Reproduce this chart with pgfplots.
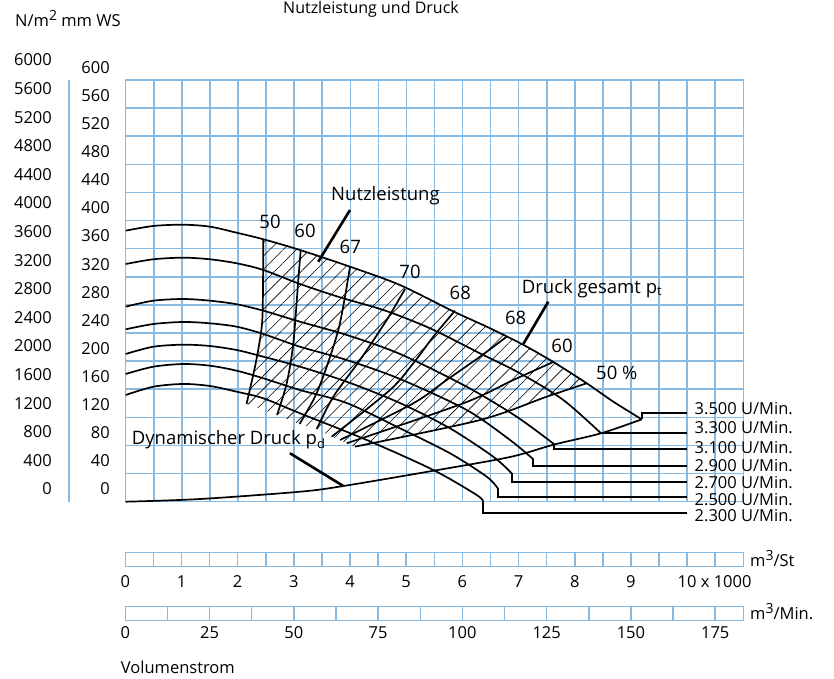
\documentclass[border=0pt]{standalone}
\usepackage{fontspec}
\setmainfont{Open Sans}
\usepackage{pgfplots}
\pgfplotsset{compat=1.18}
\usetikzlibrary{patterns.meta}
\definecolor{gridblue}{RGB}{137,186,226}
\newcommand\fa{\fontsize{18.5bp}{22bp}\selectfont}
\newcommand\fb{\fontsize{16.5bp}{20bp}\selectfont}
\begin{document}
\begin{tikzpicture}
% main chart: x in 1000 m3/h, y in mm WS
\begin{axis}[
  at={(125.7bp,177.3bp)}, anchor=south west,
  scale only axis, width=617.6bp, height=421.7bp,
  xmin=0, xmax=11, ymin=-18, ymax=582,
  xtick={0,0.5,...,11}, ytick={-18,22,...,582},
  xticklabels={}, yticklabels={},
  tick style={draw=none},
  grid=major, major grid style={gridblue, line width=1.5bp},
  axis line style={gridblue, line width=1.5bp},
  clip=false,
  curve/.style={black, no marks, line width=1.7bp, smooth},
  lead/.style={black, no marks, line width=1.7bp, sharp plot},
]
% hatched area of Nutzleistung
\addplot[draw=none, pattern={Lines[angle=45,distance=9.4bp,line width=0.6bp]}, pattern color=black]
  coordinates {(2.451,355.4)(3.104,340.1)(3.994,316.4)(4.885,290.3)(5.847,252.3)(6.430,231.0)
  (7.053,206.4)(7.616,180.8)(8.211,150.5)(7.499,131.4)(6.310,98.2)(4.084,60.3)(3.936,65.1)
  (3.817,69.8)(3.669,74.5)(3.402,85.4)(3.096,92.6)(2.695,105.4)(2.152,121.0)(2.303,174.1)
  (2.404,219.2)(2.440,254.8)} -- cycle;

% pressure curves
\addplot[curve] coordinates {(0,367.6)(0.492,374.3)(1.026,376.1)(1.502,373.3)(1.977,364.7)(2.451,355.4)(3.104,340.1)(3.994,316.4)(4.885,290.3)(5.847,252.3)(6.430,231.0)(7.053,206.4)(7.616,180.8)(8.211,150.5)(8.685,124.3)(9.191,99.2)};
\addplot[lead] coordinates {(9.191,99.2)(9.191,107.8)(10,107.8)};
\addplot[curve] coordinates {(0,320.2)(0.492,326.9)(1.026,329.2)(1.502,326.9)(1.977,321.2)(2.451,311.7)(3.104,291.8)(3.817,272.8)(4.618,254.0)(5.420,228.7)(6.310,193.1)(7.023,164.7)(7.794,126.7)(8.466,79.3)};
\addplot[lead] coordinates {(8.466,79.3)(10,79.3)};
\addplot[curve] coordinates {(0,259.5)(0.492,268.0)(1.026,270.4)(1.502,268.0)(1.977,262.9)(2.451,253.8)(3.104,238.1)(3.937,219.2)(4.885,192.2)(6.073,145.6)(6.964,102.9)(7.633,63.7)};
\addplot[lead] coordinates {(7.633,63.7)(7.633,56.6)(10,56.6)};
\addplot[curve] coordinates {(0,227.3)(0.492,234.8)(1.026,237.7)(1.502,235.8)(1.977,231.0)(2.451,220.6)(3.104,202.5)(3.937,183.6)(4.885,156.6)(6.073,112.5)(6.845,69.8)(7.260,42.3)};
\addplot[lead] coordinates {(7.260,42.3)(7.260,33.2)(10,33.2)};
\addplot[curve] coordinates {(0,192.2)(0.492,202.5)(1.026,205.4)(1.502,203.5)(1.977,197.8)(2.451,188.3)(3.104,174.1)(3.937,152.7)(4.885,122.4)(5.776,86.4)(6.547,46.0)(6.875,22.4)};
\addplot[lead] coordinates {(6.875,22.4)(6.875,9.6)(10,9.6)};
\addplot[curve] coordinates {(0,163.7)(0.492,174.1)(1.026,177.9)(1.502,175.5)(1.977,168.4)(2.451,157.6)(3.104,140.9)(3.937,122.4)(4.885,86.4)(5.776,50.9)(6.430,17.6)(6.626,1.1)};
\addplot[lead] coordinates {(6.626,1.1)(6.626,-10.9)(10,-10.9)};
\addplot[curve] coordinates {(0,133.8)(0.492,145.6)(1.026,149.5)(1.502,146.6)(1.977,138.5)(2.451,129.1)(3.104,107.8)(4.292,69.8)(5.479,27.1)(6.252,-8.5)(6.369,-18.0)};
\addplot[lead] coordinates {(6.369,-18.0)(6.369,-34.5)(10,-34.5)};

% dynamic pressure
\addplot[curve] coordinates {(0,-18.0)(1.323,-14.2)(3.104,-3.8)(3.876,4.3)(5.479,26.0)(6.845,45.6)(7.634,63.4)(8.466,79.3)(9.191,99.2)};

% efficiency lines
\addplot[curve] coordinates {(2.451,355.4)(2.440,254.8)(2.404,219.2)(2.303,174.1)(2.152,121.0)};
\addplot[curve] coordinates {(3.117,340.1)(3.074,297.4)(2.985,207.4)(2.868,150.5)(2.695,105.4)};
\addplot[curve] coordinates {(3.995,316.6)(3.906,273.7)(3.787,226.3)(3.580,174.1)(3.372,131.4)(3.096,92.6)};
\addplot[curve] coordinates {(4.975,284.6)(4.649,240.5)(4.173,183.6)(3.698,131.4)(3.402,85.4)};
\addplot[curve] coordinates {(5.865,253.8)(5.479,216.8)(5.122,178.9)(4.707,140.9)(3.669,74.5)};
\addplot[curve] coordinates {(6.786,216.8)(6.310,188.3)(5.717,155.2)(5.122,122.0)(3.817,69.8)};
\addplot[curve] coordinates {(7.616,180.8)(6.904,155.2)(6.013,122.0)(3.936,65.1)};
\addplot[curve] coordinates {(8.211,150.5)(7.499,131.4)(6.310,98.2)(4.084,60.3)};

% label leaders
\addplot[lead, line width=2.6bp] coordinates {(3.995,397.0)(3.430,323.5)};
\addplot[lead, line width=2.6bp] coordinates {(7.527,266.6)(7.082,206.4)};
\addplot[lead, line width=2.6bp] coordinates {(2.926,50.9)(3.876,4.3)};
\end{axis}

% volume flow scale in m3/h
\begin{axis}[
  at={(125.3bp,112.3bp)}, anchor=south west,
  scale only axis, width=618bp, height=14bp,
  xmin=0, xmax=11, ymin=0, ymax=1,
  xtick={0,1,2,3,4,5,6,7,8,9,10}, minor xtick={0.5,1.5,...,10.5}, ytick=\empty,
  xticklabels={0,1,2,3,4,5,6,7,8,9,{\phantom{\ x 1000}10 x 1000}},
  tick style={draw=none},
  grid=both, major grid style={gridblue, line width=1.5bp}, minor grid style={gridblue, line width=1.5bp},
  axis line style={gridblue, line width=1.5bp},
  xticklabel style={anchor=base, yshift=-21bp, font=\fb, inner sep=0pt},
]
\end{axis}

% volume flow scale in m3/min
\begin{axis}[
  at={(125.3bp,58.3bp)}, anchor=south west,
  scale only axis, width=618bp, height=14bp,
  xmin=0, xmax=183.333, ymin=0, ymax=1,
  xtick={0,25,50,75,100,125,150,175}, minor xtick={12.5,37.5,...,162.5}, ytick=\empty,
  xticklabels={0,25,50,75,100,125,150,175},
  tick style={draw=none},
  grid=both, major grid style={gridblue, line width=1.5bp}, minor grid style={gridblue, line width=1.5bp},
  axis line style={gridblue, line width=1.5bp},
  xticklabel style={anchor=base, yshift=-17.6bp, font=\fb, inner sep=0pt},
]
\end{axis}

\begin{scope}[x=1bp, y=-1bp, yshift=679bp]
  \draw[gridblue, line width=1.5bp] (69,80) -- (69,502);
  \foreach \v in {0,40,...,600} \node[anchor=east, inner sep=0pt] at (110,{489.05-0.70283*\v}) {\fb\v};
  \foreach \v in {0,400,...,6000} \node[anchor=east, inner sep=0pt] at (52,{489-0.0715*\v}) {\fb\v};
  \node[anchor=base, inner sep=0pt] at (371,13.5) {\fontsize{16bp}{19bp}\selectfont Nutzleistung und Druck};
  \node[anchor=base west, inner sep=0pt] at (15,27) {\fb N/m\raisebox{6bp}{\fontsize{14bp}{14bp}\selectfont 2} mm WS};
  \node[anchor=base west, inner sep=0pt] at (331,200.7) {\fa Nutzleistung};
  \node[anchor=base west, inner sep=0pt] at (521.7,293.3) {\fa Druck gesamt p\textsubscript{t}};
  \node[anchor=base west, inner sep=0pt] at (131.7,445) {\fa Dynamischer Druck p\textsubscript{d}};
  \node[anchor=base, inner sep=0pt] at (270,228.3) {\fa 50};
  \node[anchor=base, inner sep=0pt] at (305,237.3) {\fa 60};
  \node[anchor=base, inner sep=0pt] at (350.3,253.3) {\fa 67};
  \node[anchor=base, inner sep=0pt] at (410,278.3) {\fa 70};
  \node[anchor=base, inner sep=0pt] at (460.3,299.3) {\fa 68};
  \node[anchor=base, inner sep=0pt] at (515.7,325) {\fa 68};
  \node[anchor=base, inner sep=0pt] at (562,352.3) {\fa 60};
  \node[anchor=base west, inner sep=0pt] at (596,380) {\fa 50 \%};
  \node[anchor=base west, inner sep=0pt] at (694.5,415) {\fb 3.500 U/Min.};
  \node[anchor=base west, inner sep=0pt] at (694.5,434) {\fb 3.300 U/Min.};
  \node[anchor=base west, inner sep=0pt] at (694.5,454) {\fb 3.100 U/Min.};
  \node[anchor=base west, inner sep=0pt] at (694.5,471.7) {\fb 2.900 U/Min.};
  \node[anchor=base west, inner sep=0pt] at (694.5,488.3) {\fb 2.700 U/Min.};
  \node[anchor=base west, inner sep=0pt] at (694.5,505.7) {\fb 2.500 U/Min.};
  \node[anchor=base west, inner sep=0pt] at (694.5,521.7) {\fb 2.300 U/Min.};
  \node[anchor=base west, inner sep=0pt] at (750,566.5) {\fb m\raisebox{6bp}{\fontsize{14bp}{14bp}\selectfont 3}/St};
  \node[anchor=base west, inner sep=0pt] at (750,620) {\fb m\raisebox{6bp}{\fontsize{14bp}{14bp}\selectfont 3}/Min.};
  \node[anchor=base west, inner sep=0pt] at (120.7,673.3) {\fb Volumenstrom};
\end{scope}
\pgfresetboundingbox
\useasboundingbox (0,0) rectangle (834bp,679bp);
\end{tikzpicture}
\end{document}
